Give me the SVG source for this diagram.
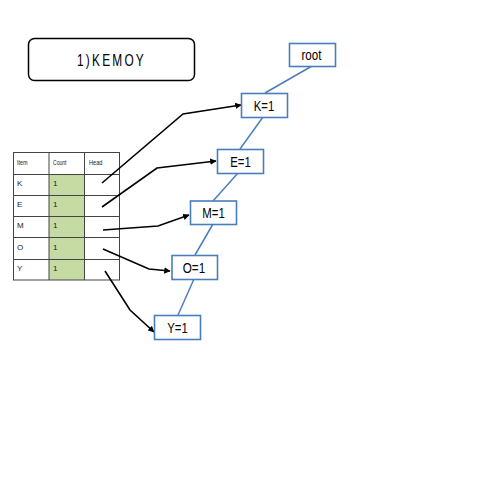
<svg xmlns="http://www.w3.org/2000/svg" width="480" height="480" viewBox="0 0 480 480">
<style>
.node rect{fill:#fff;stroke:#4a7ebb;stroke-width:1.6}
.node text{font-family:"Liberation Sans",Arial,sans-serif;font-size:14.5px;fill:#000;text-anchor:middle}
.tree line{stroke:#4a7ebb;stroke-width:1.5}
.ptr path{fill:none;stroke:#000;stroke-width:1.6;marker-end:url(#ah)}
.tbl text{font-family:"Liberation Sans",Arial,sans-serif;font-size:8px;fill:#222}
.grid line{stroke:#444;stroke-width:1}
</style>
<defs>
<marker id="ah" viewBox="0 0 10 10" refX="9" refY="5" markerWidth="4" markerHeight="4" orient="auto" markerUnits="strokeWidth">
<path d="M0,0 L10,5 L0,10 z" fill="#000"/>
</marker>
</defs>
<rect width="480" height="480" fill="#fff"/>
<g id="title">
<rect x="28.5" y="38.5" width="166" height="42" rx="6" fill="#fff" stroke="#000" stroke-width="1.5"/>
<text x="77" y="66" font-family="'Liberation Sans',Arial,sans-serif" font-size="16" letter-spacing="3" textLength="69" lengthAdjust="spacingAndGlyphs">1)KEMOY</text>
</g>
<g id="table" class="tbl">
<rect x="49" y="174" width="35" height="106" fill="#c5dba3"/>
<g class="grid">
<rect x="13.5" y="152.5" width="106" height="127.5" fill="none" stroke="#444"/>
<line x1="49" y1="152.5" x2="49" y2="280"/>
<line x1="84.5" y1="152.5" x2="84.5" y2="280"/>
<line x1="13.5" y1="174.5" x2="119.5" y2="174.5"/>
<line x1="13.5" y1="195.5" x2="119.5" y2="195.5"/>
<line x1="13.5" y1="216.5" x2="119.5" y2="216.5"/>
<line x1="13.5" y1="237.5" x2="119.5" y2="237.5"/>
<line x1="13.5" y1="259.5" x2="119.5" y2="259.5"/>
</g>
<text x="17" y="165" textLength="10.5" lengthAdjust="spacingAndGlyphs">Item</text>
<text x="53" y="165" textLength="13.5" lengthAdjust="spacingAndGlyphs">Count</text>
<text x="89" y="165" textLength="13.5" lengthAdjust="spacingAndGlyphs">Head</text>
<text x="17" y="186">K</text><text x="53" y="186">1</text>
<text x="17" y="207">E</text><text x="53" y="207">1</text>
<text x="17" y="228">M</text><text x="53" y="228">1</text>
<text x="17" y="250">O</text><text x="53" y="250">1</text>
<text x="17" y="271">Y</text><text x="53" y="271">1</text>
</g>
<g id="connectors">
<g class="tree">
<line x1="312" y1="66" x2="265" y2="93"/>
<line x1="263" y1="117" x2="240" y2="149"/>
<line x1="238" y1="173" x2="213" y2="201"/>
<line x1="213" y1="224" x2="195" y2="255"/>
<line x1="194" y1="279" x2="178" y2="315"/>
</g>
<g class="ptr">
<path d="M102,183 L183,114 L241,105"/>
<path d="M102,207 L157,168 L216,161"/>
<path d="M103,230 L158,226 L189,215"/>
<path d="M103,249 L149,269 L170,271"/>
<path d="M105,271 L130,310 L154,332"/>
</g>
</g>
<g id="root" class="node"><rect x="289.5" y="43.5" width="46" height="23"/><text x="311.5" y="60" textLength="20" lengthAdjust="spacingAndGlyphs">root</text></g>
<g id="k1" class="node"><rect x="241.5" y="93.5" width="46" height="24"/><text x="264" y="110.5" textLength="20.5" lengthAdjust="spacingAndGlyphs">K=1</text></g>
<g id="e1" class="node"><rect x="217.5" y="149.5" width="46" height="24"/><text x="240.5" y="166.5" textLength="20.5" lengthAdjust="spacingAndGlyphs">E=1</text></g>
<g id="m1" class="node"><rect x="190.5" y="201" width="46" height="23.5"/><text x="213.5" y="218" textLength="22.5" lengthAdjust="spacingAndGlyphs">M=1</text></g>
<g id="o1" class="node"><rect x="172" y="255.5" width="45.5" height="24"/><text x="194" y="273" textLength="22.5" lengthAdjust="spacingAndGlyphs">O=1</text></g>
<g id="y1" class="node"><rect x="154.5" y="315.5" width="46" height="24"/><text x="177.5" y="332.5" textLength="20.5" lengthAdjust="spacingAndGlyphs">Y=1</text></g>
</svg>
